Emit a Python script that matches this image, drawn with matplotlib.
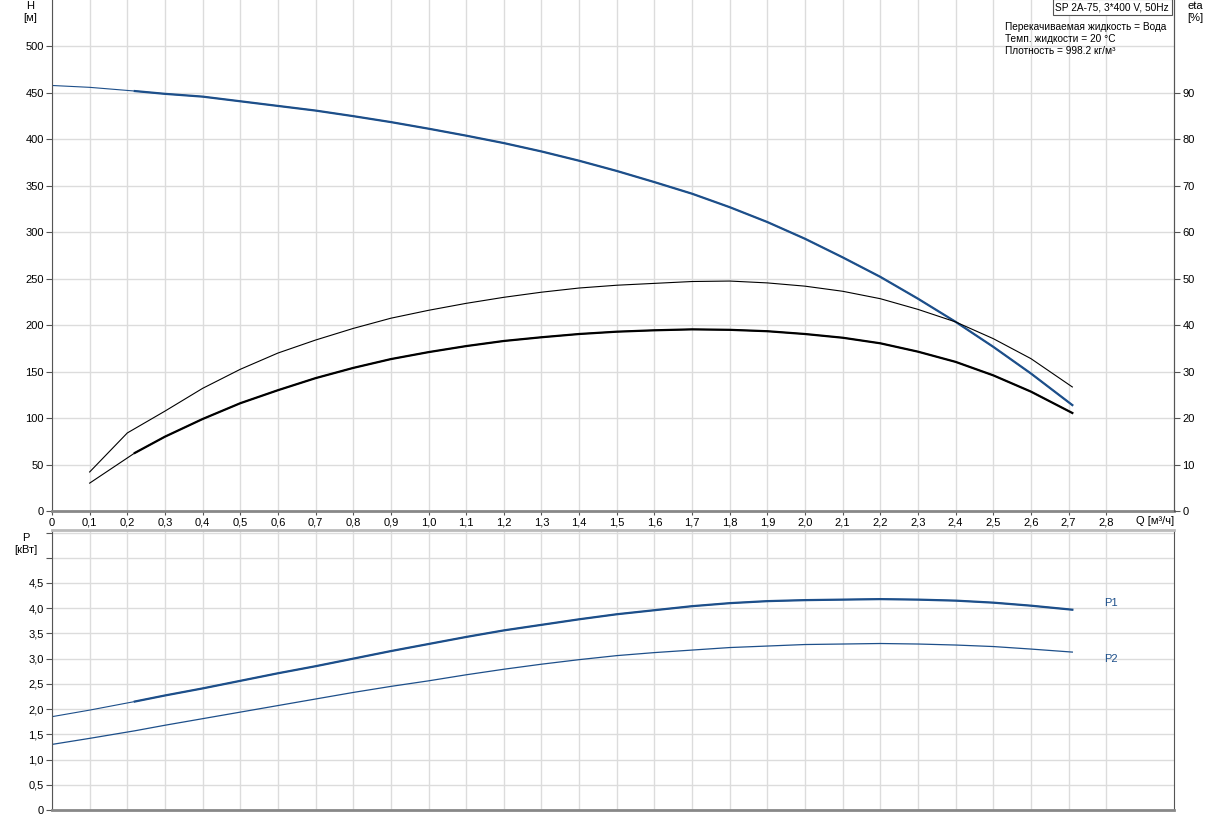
import numpy as np
import matplotlib
matplotlib.use("Agg")
import matplotlib.pyplot as plt
from matplotlib.ticker import FuncFormatter

plt.rcParams['font.family'] = ['Liberation Sans', 'DejaVu Sans']

# --- data ---
q = [0.0, 0.1, 0.22, 0.3, 0.4, 0.5, 0.6, 0.7, 0.8, 0.9, 1.0, 1.1, 1.2, 1.3, 1.4,
     1.5, 1.6, 1.7, 1.8, 1.9, 2.0, 2.1, 2.2, 2.3, 2.4, 2.5, 2.6, 2.71]
head = [458, 456, 452, 449, 446, 441, 436, 431, 425, 418.6, 411.5, 404, 396, 387, 377,
        366, 354, 341.5, 327, 311, 293, 273, 252, 228.5, 203.6, 176.7, 148, 114]
p1 = [1.85, 1.98, 2.15, 2.27, 2.41, 2.56, 2.71, 2.85, 3.00, 3.15, 3.29, 3.43, 3.56, 3.67, 3.78,
      3.88, 3.96, 4.04, 4.10, 4.14, 4.16, 4.17, 4.18, 4.17, 4.15, 4.11, 4.05, 3.97]
p2 = [1.30, 1.42, 1.57, 1.68, 1.81, 1.94, 2.07, 2.20, 2.33, 2.45, 2.56, 2.68, 2.79, 2.89, 2.98,
      3.06, 3.12, 3.17, 3.22, 3.25, 3.28, 3.29, 3.30, 3.29, 3.27, 3.24, 3.19, 3.13]

q_pump = [0.1, 0.2, 0.3, 0.4, 0.5, 0.6, 0.7, 0.8, 0.9, 1.0, 1.1, 1.2, 1.3, 1.4,
          1.5, 1.6, 1.7, 1.8, 1.9, 2.0, 2.1, 2.2, 2.3, 2.4, 2.5, 2.6, 2.71]
eta_pump = [8.4, 16.8, 21.5, 26.4, 30.5, 34.0, 36.8, 39.3, 41.5, 43.2, 44.7, 46.0, 47.1, 48.0,
            48.6, 49.0, 49.4, 49.5, 49.1, 48.4, 47.3, 45.7, 43.4, 40.7, 37.1, 32.8, 26.7]
q_total = q[1:]
eta_total = [6.0, 12.5, 16.0, 19.8, 23.2, 26.0, 28.6, 30.8, 32.7, 34.2, 35.5, 36.6, 37.4, 38.1,
             38.6, 38.9, 39.1, 39.0, 38.7, 38.1, 37.3, 36.1, 34.3, 32.1, 29.2, 25.7, 21.1]

title_box = "SP 2A-75, 3*400 V, 50Hz"
info_lines = ["Перекачиваемая жидкость = Вода",
              "Темп. жидкости = 20 °C",
              "Плотность = 998.2 кг/м³"]

blue = '#1d4f8a'
grid_c = '#dcdcdc'
spine_c = '#555555'
fs = 8
fs_info = 7.3

W, H = 1217, 819
fig = plt.figure(figsize=(W / 100, H / 100), dpi=100)

def box(x0, y0, x1, y1):
    return [x0 / W, 1 - y1 / H, (x1 - x0) / W, (y1 - y0) / H]

ax = fig.add_axes(box(52, 0, 1174, 511))
ax2 = ax.twinx()
axp = fig.add_axes(box(52, 530, 1174, 810))

qfmt = FuncFormatter(lambda v, p: '0' if abs(v) < 1e-9 else ('%.1f' % v).replace('.', ','))

ax.set_xlim(0, 2.98)
ax.set_ylim(0, 550)
ax2.set_ylim(0, 110)
axp.set_xlim(0, 2.98)
axp.set_ylim(0, 5.55)

qt = [i / 10 for i in range(29)]
ax.set_xticks(qt)
ax.xaxis.set_major_formatter(qfmt)
ax.set_yticks(range(0, 501, 50))
ax2.set_yticks(range(0, 91, 10))
axp.set_xticks(qt)
axp.set_xticklabels([])
axp.set_yticks([i * 0.5 for i in range(12)])
axp.set_yticklabels([('%.1f' % (i * 0.5)).replace('.', ',') if i > 0 else '0' for i in range(10)] + ['', ''])

for a in (ax, axp):
    a.grid(True, color=grid_c, linewidth=1.0)
    a.set_axisbelow(True)
    a.tick_params(labelsize=fs, length=4, color=spine_c, pad=2)
    a.spines['left'].set_color(spine_c)
    a.spines['right'].set_color(spine_c)
    a.spines['bottom'].set_color('#888888')
    a.spines['bottom'].set_linewidth(2)
    a.spines['top'].set_color('#bbbbbb')
    a.spines['top'].set_linewidth(2)
ax.spines['top'].set_visible(False)
ax2.spines['top'].set_visible(False)
ax2.spines['right'].set_color(spine_c)
ax2.spines['bottom'].set_visible(False)
ax2.spines['left'].set_visible(False)
ax2.tick_params(labelsize=fs, length=4, color=spine_c, pad=2)
ax.tick_params(axis='x', length=3, pad=2)
axp.tick_params(axis='x', length=0)

# curves: thin across the full range, thick inside the operating range
k = 2
ax.plot(q, head, color=blue, lw=0.8)
ax.plot(q[k:], head[k:], color=blue, lw=1.6)
ax2.plot(q_pump, eta_pump, color='black', lw=0.8)
ax2.plot(q_total, eta_total, color='black', lw=0.8)
ax2.plot(q_total[1:], eta_total[1:], color='black', lw=1.6)
axp.plot(q, p1, color=blue, lw=0.8)
axp.plot(q[k:], p1[k:], color=blue, lw=1.6)
axp.plot(q, p2, color=blue, lw=0.9)

axp.text(2.795, p1[-1] + 0.13, 'P1', color=blue, fontsize=fs, va='center')
axp.text(2.795, p2[-1] - 0.13, 'P2', color=blue, fontsize=fs, va='center')

# labels
fig.text(30 / W, 1 - 12 / H, 'H\n[м]', ha='center', va='center', fontsize=fs, linespacing=1.3)
fig.text(1195 / W, 1 - 12 / H, 'eta\n[%]', ha='center', va='center', fontsize=fs, linespacing=1.3)
fig.text(26 / W, 1 - 544 / H, 'P\n[кВт]', ha='center', va='center', fontsize=fs, linespacing=1.3)
fig.text(1155 / W, 1 - 521 / H, 'Q [м³/ч]', ha='center', va='center', fontsize=fs)

fig.text(1169 / W, 1 - 7 / H, title_box, ha='right', va='center', fontsize=fs_info,
         bbox=dict(boxstyle='square,pad=0.25', fc='white', ec='#555555', lw=0.8))
for i, line in enumerate(info_lines):
    fig.text(1005 / W, 1 - (27 + 12 * i) / H, line, ha='left', va='center', fontsize=fs_info)

fig.savefig('out.png', dpi=100)
